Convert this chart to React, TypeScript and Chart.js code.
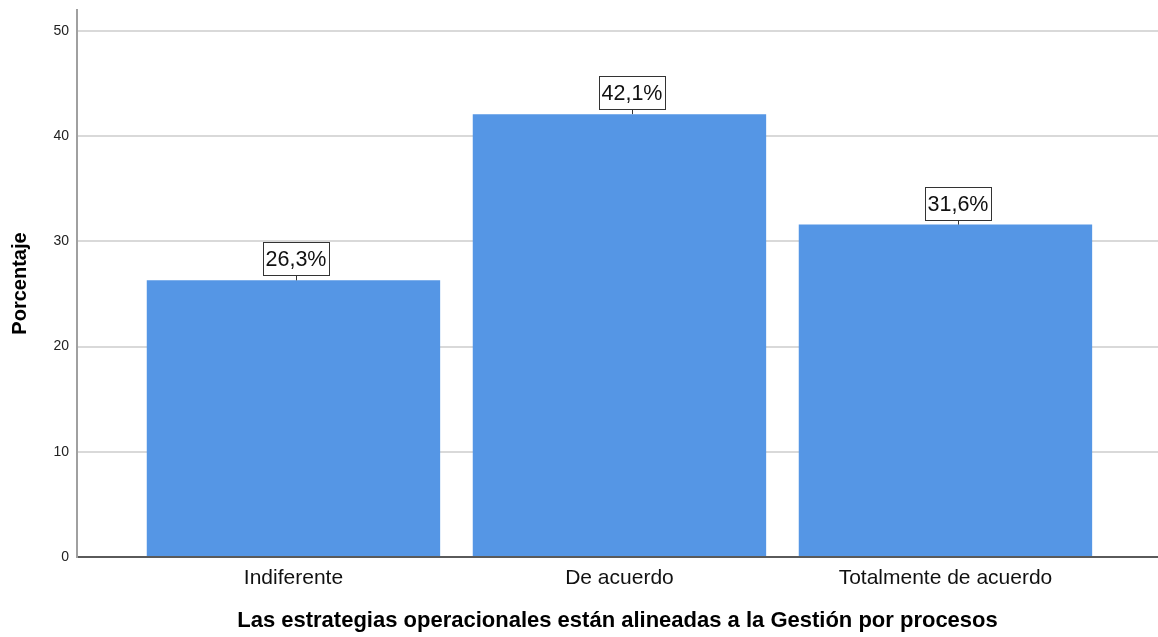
import React, { useEffect, useRef } from "react";
import { Chart, registerables } from "chart.js";

Chart.register(...registerables);

const categories = ["Indiferente", "De acuerdo", "Totalmente de acuerdo"];
const percentages = [26.3, 42.1, 31.6];
const valueLabels = ["26,3%", "42,1%", "31,6%"];
const yTicks = [0, 10, 20, 30, 40, 50];

const FONT = "'Liberation Sans', Arial, sans-serif";
// horizontal nudge of label boxes (px), as placed by the original software
const LABEL_NUDGE = [3, 13, 13];

const labelPlugin = {
  id: "boxLabels",
  afterDatasetsDraw(chart: any) {
    const ctx = chart.ctx;
    const meta = chart.getDatasetMeta(0);
    ctx.save();
    ctx.font = `21.5px ${FONT}`;
    meta.data.forEach((bar: any, i: number) => {
      const text = valueLabels[i];
      const tw = ctx.measureText(text).width;
      const w = Math.round(tw + 6);
      const h = 34;
      const x = Math.round(bar.x + (LABEL_NUDGE[i] || 0));
      const top = bar.y;
      const boxBottom = Math.round(top - 4);
      const left = Math.round(x - w / 2);
      ctx.fillStyle = "#ffffff";
      ctx.fillRect(left, boxBottom - h, w, h);
      ctx.strokeStyle = "#333333";
      ctx.lineWidth = 1;
      ctx.strokeRect(left + 0.5, boxBottom - h + 0.5, w - 1, h - 1);
      ctx.beginPath();
      ctx.moveTo(x + 0.5, boxBottom);
      ctx.lineTo(x + 0.5, top);
      ctx.stroke();
      ctx.fillStyle = "#111111";
      ctx.textAlign = "center";
      ctx.textBaseline = "middle";
      ctx.fillText(text, x, boxBottom - h / 2 + 1);
    });
    ctx.restore();
  },
};

export default function App() {
  const ref = useRef<HTMLCanvasElement | null>(null);

  useEffect(() => {
    document.body.style.margin = "0";
    if (!ref.current) return;
    const chart = new Chart(ref.current, {
      type: "bar",
      data: {
        datasets: [
          {
            data: percentages.map((v, i) => ({ x: i, y: v })),
            backgroundColor: "#5596e5",
            borderWidth: 0,
            barPercentage: 0.9,
            categoryPercentage: 1,
          },
        ],
      },
      options: {
        animation: false,
        responsive: false,
        maintainAspectRatio: false,
        layout: { padding: { top: 10, right: 0, left: 0, bottom: 0 } },
        plugins: {
          legend: { display: false },
          tooltip: { enabled: false },
        },
        scales: {
          x: {
            type: "linear",
            offset: false,
            min: -0.664,
            max: 2.652,
            grid: { display: false, drawTicks: false, offset: false },
            border: { display: true, color: "#5a5a5a", width: 2 },
            afterBuildTicks: (axis: any) => {
              axis.ticks = categories.map((_, i) => ({ value: i }));
            },
            afterFit: (axis: any) => {
              axis.height = 80;
              axis.paddingLeft = 0;
              axis.paddingRight = 0;
            },
            ticks: {
              autoSkip: false,
              maxRotation: 0,
              padding: 9,
              color: "#111111",
              font: { family: FONT, size: 21 },
              callback: (v: any) => categories[v] ?? "",
            },
            title: {
              display: true,
              text: "Las estrategias operacionales están alineadas a la Gestión por procesos",
              color: "#000000",
              font: { family: FONT, size: 22, weight: "bold" },
              padding: { top: 0, bottom: 3 },
            },
          },
          y: {
            min: 0,
            max: 52,
            afterBuildTicks: (axis: any) => {
              axis.ticks = yTicks.map((v) => ({ value: v }));
            },
            afterFit: (axis: any) => {
              axis.width = 77;
              axis.paddingTop = 0;
              axis.paddingBottom = 0;
            },
            grid: {
              drawTicks: false,
              lineWidth: 2,
              color: (c: any) =>
                c.tick && c.tick.value === 0 ? "rgba(0,0,0,0)" : "#d9d9d9",
            },
            border: { display: true, color: "#a0a0a0", width: 2 },
            ticks: {
              padding: 8,
              color: "#222222",
              font: { family: FONT, size: 14 },
            },
            title: {
              display: true,
              text: "Porcentaje",
              color: "#000000",
              font: { family: FONT, size: 20, weight: "bold" },
              padding: { top: 8, bottom: 0 },
            },
          },
        },
      },
      plugins: [labelPlugin],
    });
    return () => chart.destroy();
  }, []);

  return (
    <div style={{ width: 1158, height: 637 }}>
      <canvas ref={ref} width={1158} height={637} />
    </div>
  );
}
